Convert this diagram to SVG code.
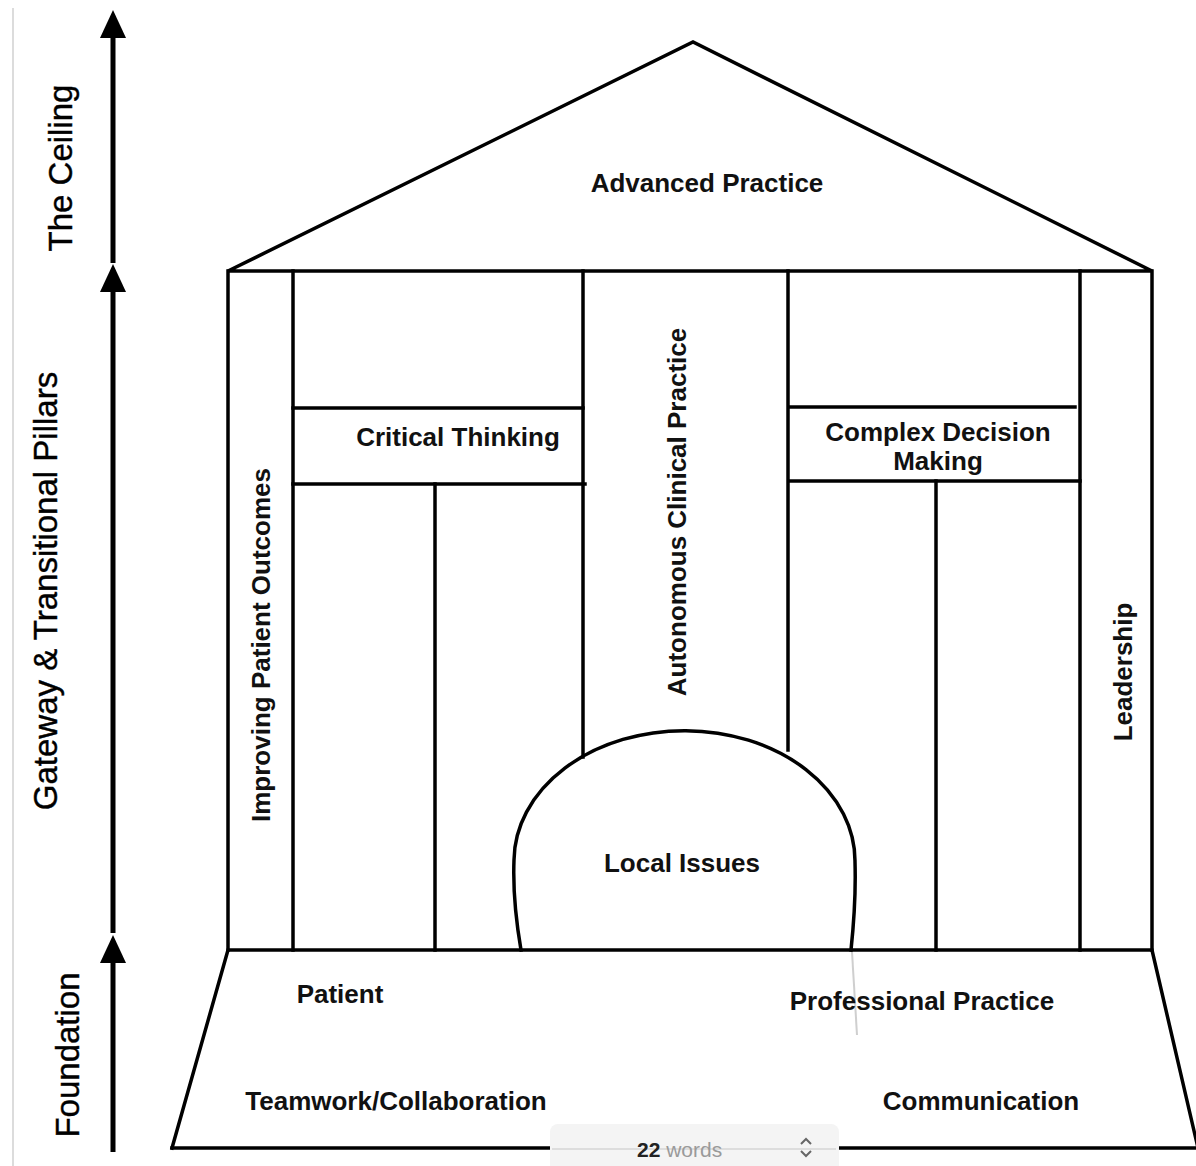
<svg xmlns="http://www.w3.org/2000/svg" width="1196" height="1166" viewBox="0 0 1196 1166">
<style>
.ln{fill:none;stroke:#000;stroke-width:3.5;stroke-linecap:square}
.lbl{font-family:"Liberation Sans",Arial,sans-serif;font-weight:bold;font-size:26px;fill:#111;text-anchor:middle}
.side{font-family:"Liberation Sans",Arial,sans-serif;font-size:33px;fill:#000;text-anchor:middle;stroke:#000;stroke-width:0.4}
.arr{stroke:#000;stroke-width:5;fill:none;marker-end:url(#ah)}
</style>
<defs>
<marker id="ah" markerUnits="userSpaceOnUse" viewBox="0 0 28 26" markerWidth="28" markerHeight="26" refX="18" refY="13" orient="auto">
<path d="M0,0 L28,13 L0,26 z" fill="#000"/>
</marker>
</defs>
<rect width="1196" height="1166" fill="#fff"/>
<line x1="13" y1="8" x2="13" y2="1166" stroke="#dcdcdc" stroke-width="2"/>

<g id="axis">
<line class="arr" x1="113" y1="263" x2="113" y2="20"/>
<line class="arr" x1="113" y1="933" x2="113" y2="274"/>
<line class="arr" x1="113" y1="1152" x2="113" y2="945"/>
<text class="side" transform="translate(72,168) rotate(-90)">The Ceiling</text>
<text class="side" transform="translate(57,591) rotate(-90)">Gateway &amp; Transitional Pillars</text>
<text class="side" transform="translate(79,1055) rotate(-90)">Foundation</text>
</g>

<g id="roof">
<path class="ln" d="M228,271 L693,42 L1152,271 Z"/>
<text class="lbl" x="707" y="192">Advanced Practice</text>
</g>

<g id="pillars">
<line class="ln" x1="228" y1="271" x2="228" y2="950"/>
<line class="ln" x1="293" y1="271" x2="293" y2="950"/>
<line class="ln" x1="1080" y1="271" x2="1080" y2="950"/>
<line class="ln" x1="1152" y1="271" x2="1152" y2="950"/>
<line class="ln" x1="583" y1="271" x2="583" y2="757"/>
<line class="ln" x1="788" y1="271" x2="788" y2="750"/>
</g>

<g id="improving-patient-outcomes">
<text class="lbl" transform="translate(270,645) rotate(-90)">Improving Patient Outcomes</text>
</g>

<g id="critical-thinking">
<line class="ln" x1="293" y1="408" x2="583" y2="408"/>
<line class="ln" x1="293" y1="484" x2="585" y2="484"/>
<line class="ln" x1="435" y1="484" x2="435" y2="950"/>
<text class="lbl" x="458" y="446">Critical Thinking</text>
</g>

<g id="autonomous-clinical-practice">
<text class="lbl" transform="translate(686,512) rotate(-90)">Autonomous Clinical Practice</text>
</g>

<g id="complex-decision-making">
<line class="ln" x1="790" y1="407" x2="1075" y2="407"/>
<line class="ln" x1="790" y1="481" x2="1080" y2="481"/>
<line class="ln" x1="936" y1="481" x2="936" y2="950"/>
<text class="lbl" x="938" y="441">Complex Decision</text>
<text class="lbl" x="938" y="470">Making</text>
</g>

<g id="leadership">
<text class="lbl" transform="translate(1132,672) rotate(-90)">Leadership</text>
</g>

<g id="local-issues">
<path class="ln" d="M521,950 C515,915 513,885 514,860 A170,130 0 0 1 855,862 C856,895 854,922 851,950"/>
<line x1="852" y1="952" x2="857" y2="1035" stroke="#bbb" stroke-width="2" opacity="0.7"/>
<text class="lbl" x="682" y="872">Local Issues</text>
</g>

<g id="foundation">
<path class="ln" d="M172,1148 L228,950 L1152,950 L1198,1148"/>
<line class="ln" x1="172" y1="1148" x2="550" y2="1148"/>
<line class="ln" x1="838" y1="1148" x2="1196" y2="1148"/>
<text class="lbl" x="340" y="1003">Patient</text>
<text class="lbl" x="922" y="1010">Professional Practice</text>
<text class="lbl" x="396" y="1110">Teamwork/Collaboration</text>
<text class="lbl" x="981" y="1110">Communication</text>
</g>

<g id="word-count">
<rect x="550" y="1124" width="289" height="50" rx="8" fill="#f4f4f4"/>
<line x1="552" y1="1149" x2="836" y2="1149" stroke="#dddddd" stroke-width="2"/>
<text x="637" y="1157" font-family="'Liberation Sans',Arial,sans-serif" font-size="21" fill="#222"><tspan font-weight="bold">22</tspan><tspan fill="#9a9a9a"> words</tspan></text>
<path d="M801,1144 L806,1139 L811,1144 M801,1151 L806,1156 L811,1151" fill="none" stroke="#666" stroke-width="2"/>
</g>
</svg>
